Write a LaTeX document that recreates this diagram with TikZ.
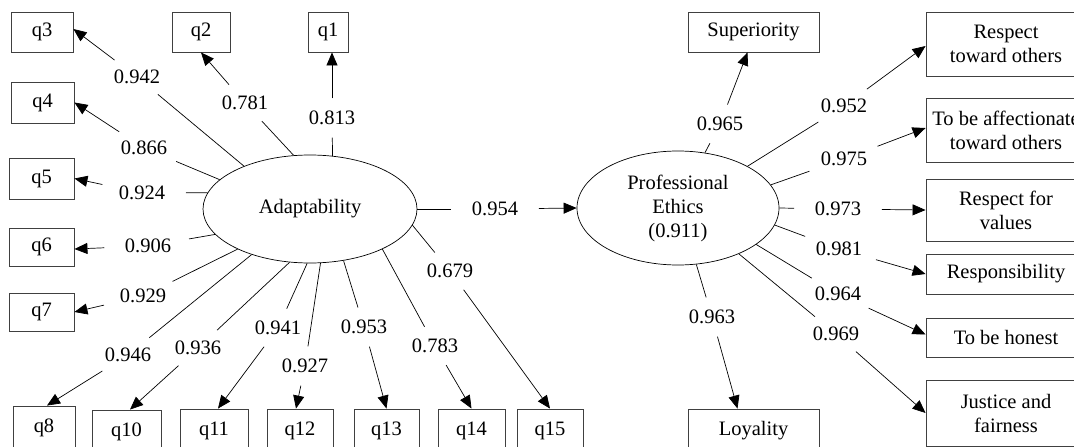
\documentclass[tikz,border=0pt]{standalone}
\usepackage{fontspec}
\setmainfont{Liberation Serif}
\usetikzlibrary{shapes.geometric,arrows.meta,calc}
\begin{document}
\begin{tikzpicture}[x=1pt,y=-1pt,
  font=\fontsize{20.5}{24}\selectfont,
  obs/.style={draw=black!75,line width=0.9pt,inner sep=0pt,align=center},
  lat/.style={draw,ellipse,line width=0.7pt,inner sep=0pt,align=center},
  lab/.style={ellipse,inner xsep=8pt,inner ysep=7pt,outer sep=0pt},
  ln/.style={line width=0.7pt},
  arr/.style={line width=0.7pt,-{Triangle[length=13pt,width=11pt]}}]
\useasboundingbox (0,0) rectangle (1074,447);
\clip (0,0) rectangle (1074,447);

% latent variables
\node[lat,minimum width=214pt,minimum height=108pt] (A) at (310,209) {Adaptability};
\node[lat,minimum width=202pt,minimum height=114pt] (PE) at (678,208) {Professional\\Ethics\\(0.911)};

% observed indicators of Adaptability
\node[obs,minimum width=40pt,minimum height=40pt] (q1) at (328,32) {q1};
\node[obs,minimum width=58pt,minimum height=40pt] (q2) at (201,32) {q2};
\node[obs,minimum width=62pt,minimum height=40pt] (q3) at (42,32) {q3};
\node[obs,minimum width=63pt,minimum height=41pt] (q4) at (42.5,102.5) {q4};
\node[obs,minimum width=65pt,minimum height=41pt] (q5) at (41.5,178.5) {q5};
\node[obs,minimum width=65pt,minimum height=38pt] (q6) at (41.5,247) {q6};
\node[obs,minimum width=65pt,minimum height=38pt] (q7) at (41.5,312) {q7};
\node[obs,minimum width=62pt,minimum height=44pt] (q8) at (44,428) {q8};
\node[obs,minimum width=69pt,minimum height=44pt] (q10) at (126.5,432) {q10};
\node[obs,minimum width=68pt,minimum height=44pt] (q11) at (214,431) {q11};
\node[obs,minimum width=66pt,minimum height=44pt] (q12) at (300,431) {q12};
\node[obs,minimum width=65pt,minimum height=44pt] (q13) at (386.5,431) {q13};
\node[obs,minimum width=67pt,minimum height=44pt] (q14) at (471.5,431) {q14};
\node[obs,minimum width=66pt,minimum height=44pt] (q15) at (550,431) {q15};

% observed indicators of Professional Ethics
\node[obs,minimum width=131pt,minimum height=40pt] (sup) at (753.5,32) {Superiority};
\node[obs,minimum width=131pt,minimum height=44pt] (loy) at (753.5,431) {Loyality};
\node[obs,minimum width=160pt,minimum height=64pt] (rto) at (1006,44) {Respect\\toward others};
\node[obs,minimum width=160pt,minimum height=64pt] (aff) at (1006,130) {To be affectionate\\toward others};
\node[obs,minimum width=160pt,minimum height=62pt] (rfv) at (1006,210) {Respect for\\values};
\node[obs,minimum width=160pt,minimum height=40pt] (resp) at (1006,274) {Responsibility};
\node[obs,minimum width=160pt,minimum height=39pt] (hon) at (1006,337.5) {To be honest};
\node[obs,minimum width=160pt,minimum height=66pt] (jus) at (1006,413) {Justice and\\fairness};

% loading labels
\node[lab] (l1) at (332,118) {0.813};
\node[lab] (l2) at (245,103) {0.781};
\node[lab] (l3) at (137,77) {0.942};
\node[lab] (l4) at (144,148) {0.866};
\node[lab] (l5) at (142,193) {0.924};
\node[lab] (l6) at (148,246) {0.906};
\node[lab] (l7) at (143,296) {0.929};
\node[lab] (l8) at (128,355) {0.946};
\node[lab] (l10) at (198,348) {0.936};
\node[lab] (l11) at (278,328) {0.941};
\node[lab] (l12) at (305,366) {0.927};
\node[lab] (l13) at (364,327) {0.953};
\node[lab] (l14) at (435,346) {0.783};
\node[lab] (l15) at (450,271) {0.679};
\node[lab] (lAP) at (495,209) {0.954};
\node[lab] (lsup) at (720,124) {0.965};
\node[lab] (lrto) at (844,106) {0.952};
\node[lab] (laff) at (844,159) {0.975};
\node[lab] (lrfv) at (838,209) {0.973};
\node[lab] (lresp) at (839,249) {0.981};
\node[lab] (lhon) at (838,294) {0.964};
\node[lab] (ljus) at (836,334) {0.969};
\node[lab] (lloy) at (712,317) {0.963};

% connectors: Adaptability
\draw[ln] (A.67.5) -- (l1);  \draw[arr] (l1) -- ($(q1.south)+(4,0)$);
\draw[ln] (A.107) -- (l2);   \draw[arr] (l2) -- (q2.south);
\draw[ln] (A.147) -- (l3);   \draw[arr] (l3) -- ($(q3.east)+(0,-3)$);
\draw[ln] (A.162) -- (l4);   \draw[arr] (l4) -- (q4.east);
\draw[ln] (A.171) -- (l5);   \draw[arr] (l5) -- (q5.east);
\draw[ln] (A.195) -- (l6);   \draw[arr] (l6) -- ($(q6.east)+(0,2)$);
\draw[ln] (A.209) -- (l7);   \draw[arr] (l7) -- (q7.east);
\draw[ln] (A.218) -- (l8);   \draw[arr] (l8) -- ($(q8.north)+(3,0)$);
\draw[ln] (A.249) -- (l10);  \draw[arr] (l10) -- ($(q10.north)+(3.5,0)$);
\draw[ln] (A.267) -- (l11);  \draw[arr] (l11) -- ($(q11.north)+(4,0)$);
\draw[ln] (A.281.5) -- (l12);\draw[arr] (l12) -- ($(q12.north)+(-4,0)$);
\draw[ln] (A.303) -- (l13);  \draw[arr] (l13) -- (q13.north);
\draw[ln] (A.331) -- (l14);  \draw[arr] (l14) -- (q14.north);
\draw[ln] (A.351.6) -- (l15);\draw[arr] (l15) -- (q15.north);
\draw[ln] (A.east) -- (lAP); \draw[arr] (lAP) -- (PE.west);

% connectors: Professional Ethics
\draw[ln] (PE.64) -- (lsup);    \draw[arr] (lsup) -- ($(sup.south)+(-6,0)$);
\draw[ln] (PE.31) -- (lrto);    \draw[arr] (lrto) -- ($(rto.west)+(0,2)$);
\draw[ln] (PE.14.3) -- (laff);  \draw[arr] (laff) -- ($(aff.west)+(0,-2)$);
\draw[ln] (PE.east) -- (lrfv);  \draw[arr] (lrfv) -- (rfv.west);
\draw[ln] (PE.350) -- (lresp);  \draw[arr] (lresp) -- (resp.west);
\draw[ln] (PE.335.5) -- (lhon); \draw[arr] (lhon) -- ($(hon.west)+(0,-3)$);
\draw[ln] (PE.323) -- (ljus);   \draw[arr] (ljus) -- (jus.west);
\draw[ln] (PE.288) -- (lloy);   \draw[arr] (lloy) -- ($(loy.north)+(-16,0)$);
\end{tikzpicture}
\end{document}
